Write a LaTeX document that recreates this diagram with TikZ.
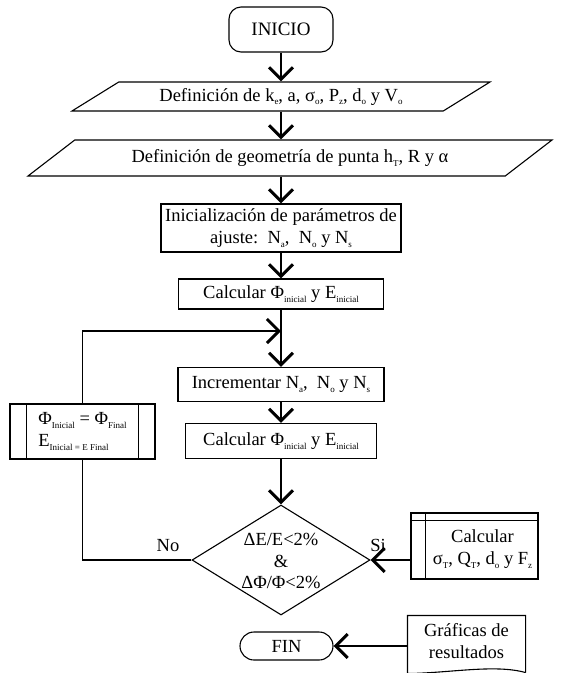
\documentclass[tikz,border=0pt]{standalone}
\usepackage{fontspec}
\setmainfont{Liberation Serif}
\usetikzlibrary{arrows.meta,shapes.geometric,shapes.misc}
\newcommand\sbx[1]{\raisebox{-0.45ex}{\fontsize{9}{9}\selectfont #1}}
\begin{document}
\begin{tikzpicture}[x=1pt,y=-1pt,
  font=\fontsize{18.5}{21.5}\selectfont,
  line width=1.1pt,
  box/.style={draw, rectangle, inner sep=0pt, align=center},
  para/.style={draw, trapezium, trapezium left angle=20, trapezium right angle=160,
    trapezium stretches body, inner sep=0pt},
  arr/.style={-{Straight Barb[length=12pt,width=24pt,line width=3pt]}},
  lbl/.style={inner sep=0pt}]
\useasboundingbox (0,0) rectangle (563,673);

\node[box, rounded corners=12pt, minimum width=104pt, minimum height=45pt,
  font=\fontsize{19}{22}\selectfont] (inicio) at (281,29.5) {INICIO};
\node[para, minimum width=418pt, minimum height=29pt] (def1) at (281,96.5)
  {Definición de k\sbx{e}, a, σ\sbx{o}, P\sbx{z}, d\sbx{o} y V\sbx{o}};
\node[para, minimum width=524pt, minimum height=36pt] (def2) at (290,158)
  {Definición de geometría de punta h\sbx{T}, R y α};
\node[box, minimum width=240pt, minimum height=48pt] (init) at (281,228)
  {Inicialización de parámetros de\\ajuste:\ \ N\sbx{a},\ \ N\sbx{o} y N\sbx{s}};
\node[box, minimum width=205pt, minimum height=30pt] (calc1) at (281,294)
  {Calcular Φ\sbx{inicial} y E\sbx{inicial}};
\coordinate (merge) at (281,331);
\node[box, minimum width=206pt, minimum height=34pt] (incr) at (281,384.5)
  {Incrementar N\sbx{a},\ \ N\sbx{o} y N\sbx{s}};
\node[box, minimum width=191pt, minimum height=35pt] (calc2) at (281,441)
  {Calcular Φ\sbx{inicial} y E\sbx{inicial}};
\node[draw, diamond, aspect=1.62, minimum width=178pt, minimum height=110pt, inner sep=0pt] (diam) at (281,560) {};
\node[lbl, align=center] (dtext) at (281,561) {ΔE/E<2\%\\\&\\ΔΦ/Φ<2\%};
\node[box, minimum width=145pt, minimum height=55pt, align=left] (phi) at (82.5,431.5)
  {Φ\sbx{Inicial} = Φ\sbx{Final}\\E\sbx{Inicial = E Final}};
\draw ([xshift=17pt]phi.north west) -- ([xshift=17pt]phi.south west);
\draw ([xshift=-17pt]phi.north east) -- ([xshift=-17pt]phi.south east);
\node[box, minimum width=127pt, minimum height=66pt] (calc3) at (474.5,546) {};
\draw ([yshift=-8pt]calc3.north west) -- ([yshift=-8pt]calc3.north east);
\draw ([xshift=15pt]calc3.north west) -- ([xshift=15pt]calc3.south west);
\node[lbl, align=center] (calc3t) at (482.5,549) {Calcular\\σ\sbx{T}, Q\sbx{T}, d\sbx{o} y F\sbx{z}};
\node[draw, rounded rectangle, minimum width=93pt, minimum height=28pt, inner sep=0pt] (fin) at (286.5,646) {FIN};
\node[lbl, minimum width=117pt, minimum height=50pt, align=center] (graf) at (466.5,641) {Gráficas de\\resultados};
\draw ([yshift=-6pt]graf.south east) -- (graf.north east) -- (graf.north west) -- ([yshift=-7pt]graf.south west)
  .. controls (450,673) and (495,664) .. ([yshift=-6pt]graf.south east);
\node[lbl] (no) at (168,546) {No};
\node[lbl] (si) at (378,545) {Si};

\draw[arr] (inicio) -- (def1.north -| inicio.south);
\draw[arr] (def1.south -| inicio.south) -- (init.north |- def2.north);
\draw[arr] (init.north |- def2.south) -- (init.north);
\draw[arr] (init) -- (calc1);
\draw[arr] (calc1) -- (incr);
\draw[arr] (incr) -- (calc2);
\draw[arr] (calc2) -- (diam);
\draw (diam.west) -| (phi.south);
\draw[arr] (phi.north) |- (merge);
\draw[arr] (calc3.west |- diam.east) -- (diam.east);
\draw[arr] (graf.west |- fin.east) -- (fin.east);
\end{tikzpicture}
\end{document}
